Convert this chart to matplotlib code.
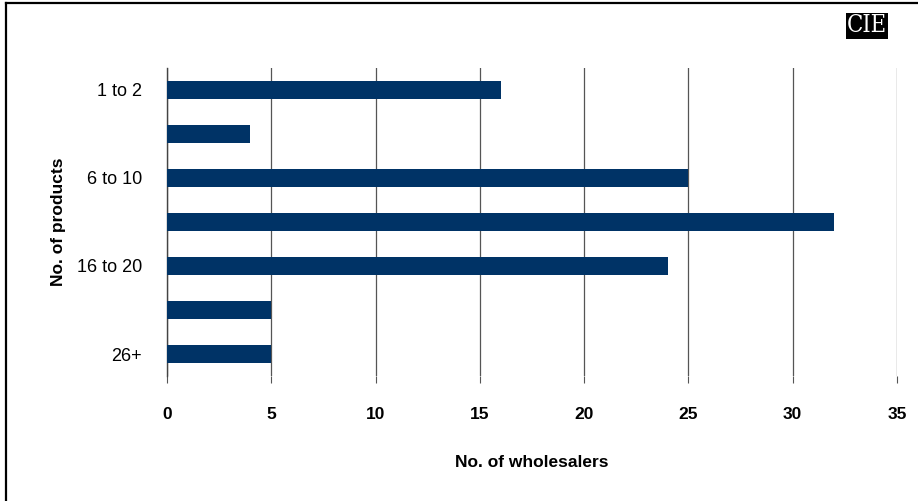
import matplotlib
matplotlib.use('Agg')
import matplotlib.pyplot as plt
from matplotlib.lines import Line2D

# data
categories = ['1 to 2', '3 to 5', '6 to 10', '11 to 15', '16 to 20', '21 to 25', '26+']
wholesalers = [16, 4, 25, 32, 24, 5, 5]
shown_labels = ['1 to 2', '', '6 to 10', '', '16 to 20', '', '26+']
x_ticks = [0, 5, 10, 15, 20, 25, 30, 35]

plt.rcParams['font.family'] = ['Liberation Sans', 'DejaVu Sans']

fig = plt.figure(figsize=(9.18, 5.01), dpi=100)
ax = fig.add_axes([167/918, 1 - 376/501, (897 - 167)/918, (376 - 68)/501])

pos = list(range(len(categories)))
ax.barh(pos, wholesalers, height=0.42, color='#003366', zorder=3)

ax.set_xlim(0, 35)
ax.set_ylim(6.5, -0.5)
ax.set_xticks(x_ticks)
ax.set_xticklabels([str(t) for t in x_ticks], fontweight='bold', fontsize=12.5)
ax.set_yticks(pos)
ax.set_yticklabels(shown_labels, fontsize=13)

ax.grid(axis='x', color='#555555', linewidth=0.9, zorder=0)
for s in ['top', 'right', 'bottom']:
    ax.spines[s].set_visible(False)
ax.spines['left'].set_color('#444444')
ax.spines['left'].set_linewidth(1.0)
ax.tick_params(axis='x', length=5, color='#555555', pad=17)
ax.tick_params(axis='y', length=0, pad=18)

ax.set_xlabel('No. of wholesalers', fontweight='bold', fontsize=12.5, labelpad=24)
ax.set_ylabel('No. of products', fontweight='bold', fontsize=12.5, labelpad=8)

# border lines
fig.add_artist(Line2D([6/918, 1], [1 - 3/501, 1 - 3/501], color='black', linewidth=1.6,
                      transform=fig.transFigure))
fig.add_artist(Line2D([6/918, 6/918], [0, 1 - 3/501], color='black', linewidth=1.6,
                      transform=fig.transFigure))

# logo
fig.text(867/918, 1 - 26/501, 'CIE', color='white', fontsize=17, family='DejaVu Serif',
         ha='center', va='center', fontstretch='condensed',
         bbox=dict(facecolor='black', edgecolor='none', boxstyle='square,pad=0.05'))

fig.savefig('out.png', dpi=100)
